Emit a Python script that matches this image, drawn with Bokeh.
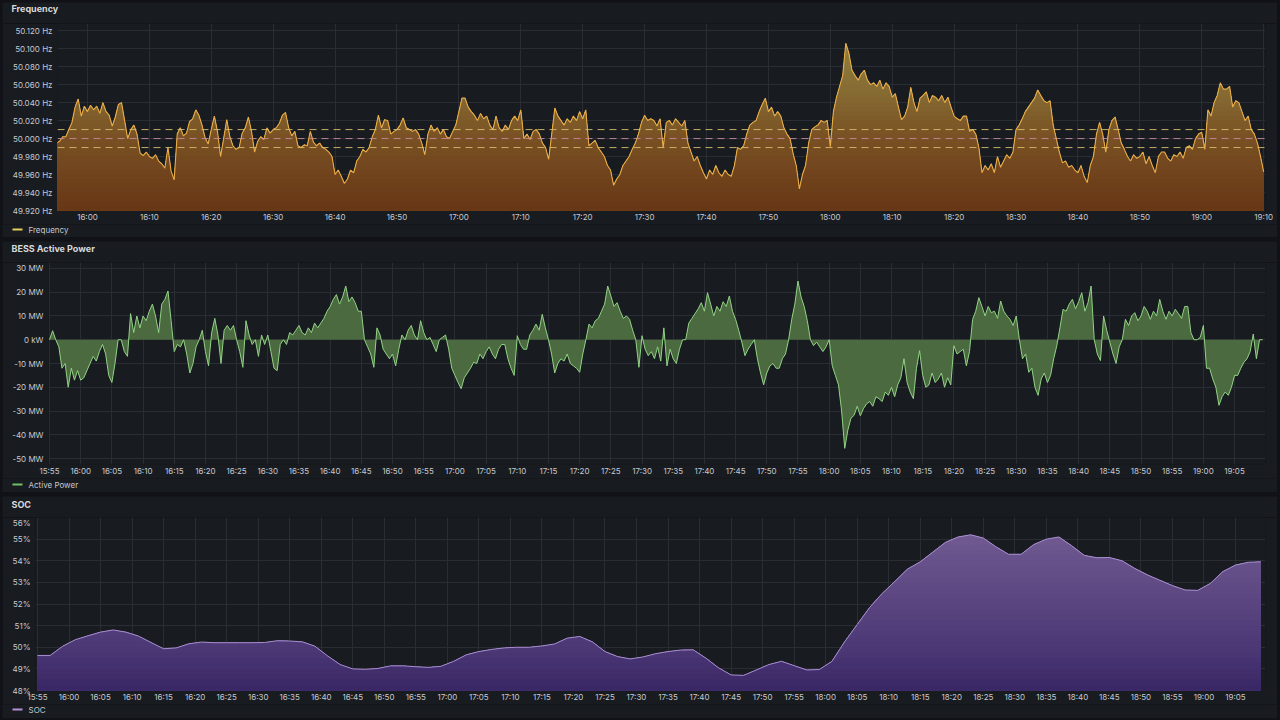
import numpy as np
from bokeh.plotting import figure
from bokeh.models import Range1d, FixedTicker, CustomJSTickFormatter, Span, Spacer
from bokeh.layouts import column
from bokeh.core.properties import value
from bokeh.embed import file_html
from bokeh.resources import INLINE

# ---------------- data ----------------
START_CLOCK_MIN = 15 * 60 + 55          # 15:55
FREQ_STEP_MIN = 0.5
POWER_STEP_MIN = 0.5
SOC_STEP_MIN = 2.0

freq_hz = [
    49.995, 49.997, 50.002, 50.002, 50.010, 50.018, 50.035, 50.044, 50.025, 50.036,
    50.030, 50.037, 50.032, 50.036, 50.028, 50.040, 50.030, 50.026, 50.014, 50.024,
    50.038, 50.040, 50.020, 50.000, 50.010, 50.015, 50.005, 49.984, 49.981, 49.985,
    49.980, 49.978, 49.982, 49.975, 49.972, 49.967, 49.990, 49.964, 49.954, 50.005,
    50.012, 50.003, 50.006, 50.019, 50.022, 50.032, 50.026, 50.015, 50.001, 49.994,
    50.010, 50.025, 50.008, 49.980, 50.000, 50.021, 50.002, 49.992, 49.988, 49.990,
    50.006, 50.012, 50.024, 50.008, 49.985, 49.997, 50.002, 49.999, 50.012, 50.006,
    50.010, 50.012, 50.017, 50.026, 50.029, 50.012, 50.003, 50.008, 49.992, 49.990,
    49.993, 49.992, 50.008, 49.996, 49.992, 49.995, 49.990, 49.988, 49.985, 49.980,
    49.960, 49.965, 49.958, 49.950, 49.955, 49.965, 49.962, 49.975, 49.980, 49.988,
    49.985, 49.990, 50.002, 50.010, 50.026, 50.012, 50.021, 50.020, 50.005, 50.008,
    50.010, 50.015, 50.023, 50.012, 50.010, 50.008, 50.010, 50.005, 49.995, 49.982,
    50.005, 50.015, 50.008, 50.012, 50.005, 50.010, 50.002, 50.000, 50.008, 50.015,
    50.030, 50.045, 50.045, 50.035, 50.030, 50.026, 50.020, 50.028, 50.022, 50.025,
    50.015, 50.010, 50.025, 50.012, 50.008, 50.015, 50.010, 50.020, 50.025, 50.020,
    50.032, 50.000, 50.005, 49.999, 50.008, 50.010, 50.005, 49.995, 49.990, 49.977,
    50.005, 50.034, 50.025, 50.020, 50.015, 50.022, 50.018, 50.025, 50.020, 50.030,
    50.022, 50.032, 49.992, 49.995, 49.998, 49.990, 49.985, 49.980, 49.970, 49.965,
    49.948, 49.955, 49.960, 49.970, 49.975, 49.980, 49.988, 49.995, 50.005, 50.018,
    50.026, 50.020, 50.022, 50.020, 50.014, 50.022, 49.990, 50.018, 50.020, 50.015,
    50.022, 50.018, 50.014, 50.020, 49.995, 49.985, 49.975, 49.980, 49.970, 49.962,
    49.955, 49.965, 49.960, 49.970, 49.962, 49.958, 49.965, 49.960, 49.958, 49.970,
    49.990, 49.988, 49.992, 50.005, 50.015, 50.018, 50.020, 50.030, 50.038, 50.045,
    50.030, 50.035, 50.025, 50.030, 50.025, 50.012, 50.005, 50.000, 49.983, 49.970,
    49.944, 49.960, 49.970, 49.995, 50.010, 50.013, 50.015, 50.020, 50.018, 50.020,
    49.991, 50.030, 50.046, 50.058, 50.070, 50.106, 50.095, 50.076, 50.070, 50.065,
    50.072, 50.076, 50.065, 50.060, 50.062, 50.058, 50.065, 50.055, 50.062, 50.058,
    50.046, 50.050, 50.035, 50.021, 50.025, 50.035, 50.057, 50.040, 50.030, 50.045,
    50.048, 50.052, 50.040, 50.048, 50.046, 50.042, 50.048, 50.040, 50.046, 50.035,
    50.025, 50.022, 50.020, 50.025, 50.025, 50.008, 50.010, 50.005, 49.990, 49.962,
    49.970, 49.965, 49.972, 49.962, 49.980, 49.968, 49.975, 49.982, 49.978, 49.985,
    50.010, 50.015, 50.022, 50.030, 50.035, 50.040, 50.045, 50.054, 50.048, 50.042,
    50.040, 50.042, 50.015, 50.000, 49.985, 49.973, 49.975, 49.968, 49.970, 49.965,
    49.962, 49.970, 49.958, 49.951, 49.970, 49.980, 50.005, 50.018, 50.005, 49.985,
    50.010, 50.020, 50.024, 50.010, 49.995, 49.988, 49.980, 49.975, 49.982, 49.978,
    49.980, 49.985, 49.972, 49.980, 49.970, 49.962, 49.980, 49.985, 49.985, 49.978,
    49.975, 49.982, 49.980, 49.985, 49.978, 49.990, 49.992, 49.988, 50.000, 50.005,
    50.007, 49.988, 50.032, 50.025, 50.040, 50.048, 50.062, 50.055, 50.055, 50.058,
    50.035, 50.042, 50.040, 50.030, 50.020, 50.025, 50.010, 50.005, 49.995, 49.980,
    49.963,
]

power_mw = [
    0, 3.8, 0, -3, -12, -10, -20, -12, -17, -13,
    -17, -16, -13, -10, -7, -9, -5, -2, -6, -15,
    -18, -10, 0, 0, -5, -7, 11, 3, 10, 5,
    10, 8, 12, 15, 10, 3, 15, 17, 20.5, 8,
    -5, -2, -3, 0, -6, -14, -10, -3, 0, 4,
    -5, -11, 3, 9, 2, -10, 4, 6, 4, 6,
    0, -5, -11.6, 8, 2, -2, 0, -7, 2, -2,
    2, -5, -12, -13, -2, 0, -2, 3, 2, 4,
    6, 3, 2, 5, 3, 7, 5, 7, 9, 12,
    14, 17, 19, 15, 18, 22.6, 16, 18, 15.6, 12,
    12, 0, -3, -6, -11.6, 5, 2, -4, -6, -8,
    -6, -11, -4, 2, 0, 4, 6, 2, 0, 8,
    3, 0, 1, -2, -5, 0, 1, 2, -4, -12,
    -15, -18, -20.6, -16, -14, -12, -9.5, -10, -6, -8,
    -5, -3, -6, -8, -4, -2, -2, -8, -12, -15,
    1.7, -2, -4, -4, 2, 4, 6.6, 4, 10.7, 5,
    0, -6, -14, -10, -8, -9, -6, -10, -11, -12,
    -13.7, -6, 0, 6.6, 5, 8, 9, 12, 15, 22.6,
    18.4, 14, 15.6, 12, 9, 10, 8.6, 4, 0, -11.6,
    1.7, -4, -6.7, -5, -8, -3, -9, 5, -11, -4,
    -8, -10, -4, 0, 0, 7, 9, 11, 13, 15.6,
    12, 19.8, 15, 10, 14, 12, 16, 14, 18.4, 12,
    8.6, 4, -1, -6.7, -4, -2, 0, -8, -14, -19,
    -14, -11, -10, -12, -12, -8, -6, 0, 8.6, 15,
    24.7, 18, 14, 8, 0, -2.5, -1, -3, -5, -3,
    0, -11, -15, -19, -30, -45.7, -38, -33, -31.8, -28,
    -32, -29, -27, -26, -28, -24, -24.8, -26, -22, -23.4,
    -20, -24, -19, -16, -8, -18, -22, -24.8, -12, -4.6,
    -15, -20, -19, -14, -18, -16.5, -14, -20, -16, -19,
    -2.5, -6, -5, -4, -11, -5, 8.6, 12, 17.7, 14,
    10, 14, 11.4, 12, 9, 16.3, 12, 10, 8.6, 6,
    10, 0, -8, -6, -13.7, -12, -20, -23.4, -16.5, -14,
    -18, -15, -8, -2.5, 5, 12.8, 12, 15, 17, 13,
    16, 19.8, 12, 15.6, 22.6, 0, -6, -8.8, 10, 4,
    -1, -6, -10, -3, 0, 8.6, 6, 10, 11.4, 8,
    10, 14, 12, 8.6, 12, 10, 17, 12, 8.6, 12,
    10, 12.8, 11, 9, 14, 14, 3, 0, 0, 1,
    6, -12, -12, -16.5, -20, -27.6, -24, -22, -23.4, -20,
    -15, -15, -12, -9.5, -8, -5, 2.4, -8, 0, 0,
]

soc_pct = [
    49.62, 49.62, 50.05, 50.35, 50.53, 50.70, 50.80, 50.70, 50.52, 50.22,
    49.93, 49.97, 50.16, 50.24, 50.21, 50.21, 50.21, 50.21, 50.22, 50.30,
    50.29, 50.25, 50.05, 49.60, 49.20, 49.00, 48.98, 49.02, 49.14, 49.14,
    49.10, 49.07, 49.12, 49.35, 49.65, 49.80, 49.90, 49.97, 50.00, 50.00,
    50.06, 50.15, 50.42, 50.50, 50.25, 49.80, 49.57, 49.46, 49.55, 49.70,
    49.80, 49.87, 49.88, 49.50, 49.05, 48.72, 48.70, 48.95, 49.20, 49.35,
    49.15, 48.95, 48.97, 49.35, 50.25, 51.05, 51.85, 52.50, 53.05, 53.62,
    53.95, 54.40, 54.85, 55.10, 55.20, 55.05, 54.65, 54.30, 54.30, 54.75,
    55.00, 55.10, 54.70, 54.25, 54.14, 54.15, 54.00, 53.65, 53.35, 53.10,
    52.85, 52.65, 52.63, 52.95, 53.50, 53.80, 53.93, 53.95,
]

freq_upper_threshold = 50.010
freq_nominal = 50.000
freq_lower_threshold = 49.990

freq_y_ticks = [49.92, 49.94, 49.96, 49.98, 50.0, 50.02, 50.04, 50.06, 50.08, 50.1, 50.12]
freq_y_labels = ["49.920 Hz", "49.940 Hz", "49.960 Hz", "49.980 Hz", "50.000 Hz", "50.020 Hz",
                 "50.040 Hz", "50.060 Hz", "50.080 Hz", "50.100 Hz", "50.120 Hz"]
power_y_ticks = [-50, -40, -30, -20, -10, 0, 10, 20, 30]
power_y_labels = ["-50 MW", "-40 MW", "-30 MW", "-20 MW", "-10 MW", "0 kW", "10 MW", "20 MW", "30 MW"]
soc_y_ticks = [48, 49, 50, 51, 52, 53, 54, 55, 56]
soc_y_labels = ["48%", "49%", "50%", "51%", "52%", "53%", "54%", "55%", "56%"]

freq_x_ticks = list(range(5, 200, 10))     # minutes after 15:55 -> 16:00, 16:10, ...
power_x_ticks = list(range(0, 195, 5))     # 15:55, 16:00, ...
soc_x_ticks = list(range(0, 195, 5))

panel_titles = ["Frequency", "BESS Active Power", "SOC"]
legend_labels = ["Frequency", "Active Power", "SOC"]


def clock_label(m):
    total = START_CLOCK_MIN + int(m)
    return f"{total // 60}:{total % 60:02d}"


freq_x_labels = [clock_label(m) for m in freq_x_ticks]
power_x_labels = [clock_label(m) for m in power_x_ticks]
soc_x_labels = [clock_label(m) for m in soc_x_ticks]

freq_t = np.arange(len(freq_hz)) * FREQ_STEP_MIN
power_t = np.arange(len(power_mw)) * POWER_STEP_MIN
soc_t = np.arange(len(soc_pct)) * SOC_STEP_MIN

# ---------------- style ----------------
PAGE_BG = "#111217"
PANEL_BG = "#181b1f"
GRID = "#2a2d33"
TICK_TXT = "#c7c9d1"
TITLE_TXT = "#d8d9dc"
FONT = "Inter"
TICK_SIZE = "8px"
FIG_W = 1275


def lerp_color(stops, v):
    vals = [s[0] for s in stops]
    cols = np.array([s[1] for s in stops], dtype=float)
    rgb = [np.interp(v, vals, cols[:, i]) for i in range(3)]
    return "#%02x%02x%02x" % tuple(int(round(c)) for c in rgb)


def label_formatter(tv, tl):
    return CustomJSTickFormatter(args=dict(tv=tv, tl=tl),
                                 code="const i = tv.indexOf(tick); return i >= 0 ? tl[i] : '';")


def strip_fig(height):
    """A plain panel strip (header / footer) whose frame covers it; units are pixels."""
    p = figure(width=FIG_W, height=height, x_range=Range1d(0, FIG_W), y_range=Range1d(height, 0),
               output_backend="svg", toolbar_location=None, tools="", title=None,
               x_axis_type=None, y_axis_type=None,
               min_border_left=0, min_border_right=0, min_border_top=0, min_border_bottom=0)
    p.frame_align = False
    p.background_fill_color = PANEL_BG
    p.border_fill_color = PANEL_BG
    p.outline_line_color = None
    p.xgrid.visible = False
    p.ygrid.visible = False
    return p


def header(height, text, cy):
    p = strip_fig(height)
    p.text(x=[9], y=[cy], text=[text], text_color=TITLE_TXT, text_font=value(FONT),
           text_font_size="9px", text_font_style="bold", text_baseline="middle", text_align="left")
    return p


def footer(height, text, color, cy):
    p = strip_fig(height)
    p.segment(x0=[10], y0=[cy], x1=[20], y1=[cy], line_color=color, line_width=2)
    p.text(x=[26], y=[cy], text=[text], text_color=TICK_TXT, text_font=value(FONT),
           text_font_size=TICK_SIZE, text_baseline="middle", text_align="left")
    return p


def main_fig(height, xr, yr, left, xt, xl, yt, yl):
    p = figure(width=FIG_W, height=height, x_range=Range1d(*xr), y_range=Range1d(*yr),
               output_backend="svg", toolbar_location=None, tools="", title=None,
               min_border_left=left, min_border_right=12, min_border_top=0, min_border_bottom=13)
    p.frame_align = False
    p.background_fill_color = PANEL_BG
    p.border_fill_color = PANEL_BG
    p.outline_line_color = None
    for ax in (p.xaxis[0], p.yaxis[0]):
        ax.axis_line_color = None
        ax.major_tick_line_color = None
        ax.minor_tick_line_color = None
        ax.major_tick_in = 0
        ax.major_tick_out = 0
        ax.minor_tick_in = 0
        ax.minor_tick_out = 0
        ax.major_label_text_color = TICK_TXT
        ax.major_label_text_font = FONT
        ax.major_label_text_font_size = TICK_SIZE
    p.xaxis[0].ticker = FixedTicker(ticks=xt)
    p.xaxis[0].formatter = label_formatter(xt, xl)
    p.yaxis[0].ticker = FixedTicker(ticks=yt)
    p.yaxis[0].formatter = label_formatter(yt, yl)
    p.xaxis[0].major_label_standoff = 1
    p.yaxis[0].major_label_standoff = 5
    p.xgrid.grid_line_color = GRID
    p.ygrid.grid_line_color = GRID
    return p


def gradient_area(p, x, y, base, bounds, stops):
    y = np.asarray(y, dtype=float)
    cols = [lerp_color(stops, 0.5 * (bounds[k] + bounds[k + 1])) for k in range(len(bounds) - 1)]
    p.varea(x=x, y1=base, y2=y, fill_color=cols[-1], fill_alpha=1.0)
    for k in range(len(bounds) - 2, 0, -1):
        p.varea(x=x, y1=base, y2=np.minimum(y, bounds[k]), fill_color=cols[k - 1], fill_alpha=1.0)


# ---------------- panel 1 : frequency ----------------
h1 = header(21, panel_titles[0], 6)
p1 = main_fig(201, (0.16, 195.3), (49.92, 50.128), 55,
              freq_x_ticks, freq_x_labels, freq_y_ticks, freq_y_labels)
FREQ_STOPS = [(49.92, (104, 55, 22)), (50.00, (120, 80, 35)), (50.05, (134, 106, 50)),
              (50.11, (143, 128, 62))]
gradient_area(p1, freq_t, freq_hz, 49.92, list(np.arange(49.92, 50.1301, 0.005)), FREQ_STOPS)
p1.line(freq_t, freq_hz, line_color="#e8ad48", line_width=1.1)
for v, c in ((freq_upper_threshold, "#d9bd6a"), (freq_nominal, "#c98aa0"),
             (freq_lower_threshold, "#d9bd6a")):
    p1.add_layout(Span(location=v, dimension="width", line_color=c, line_width=1,
                       line_dash="7 5", line_alpha=0.9))
f1 = footer(13, legend_labels[0], "#e6cf5a", 5)

# ---------------- panel 2 : active power ----------------
h2 = header(21, panel_titles[1], 7)
p2 = main_fig(216, (-0.16, 194.96), (-52.5, 32.5), 46,
              power_x_ticks, power_x_labels, power_y_ticks, power_y_labels)
p2.varea(x=power_t, y1=0, y2=power_mw, fill_color="#4b6a3f", fill_alpha=1.0)
p2.line(power_t, power_mw, line_color="#92d386", line_width=1)
f2 = footer(14, legend_labels[1], "#73bf69", 6)

# ---------------- panel 3 : SOC ----------------
h3 = header(21, panel_titles[2], 8)
p3 = main_fig(187, (-0.32, 194.76), (48, 56), 33,
              soc_x_ticks, soc_x_labels, soc_y_ticks, soc_y_labels)
SOC_STOPS = [(48, (57, 38, 100)), (50, (75, 56, 117)), (53, (97, 75, 133)), (56, (117, 95, 149))]
gradient_area(p3, soc_t, soc_pct, 48, list(np.arange(48, 56.01, 0.25)), SOC_STOPS)
p3.line(soc_t, soc_pct, line_color="#a88ed0", line_width=1)
f3 = footer(14, legend_labels[2], "#b590dc", 5)

layout = column(h1, p1, f1, Spacer(height=4), h2, p2, f2, Spacer(height=4), h3, p3, f3, spacing=0)

html = file_html(layout, INLINE, title="BESS dashboard")
html = html.replace("</head>", "<style>html,body{margin:0;background:%s;}body{padding:2px 0 0 2px;}</style></head>" % PAGE_BG, 1)
open("out.html", "w").write(html)
